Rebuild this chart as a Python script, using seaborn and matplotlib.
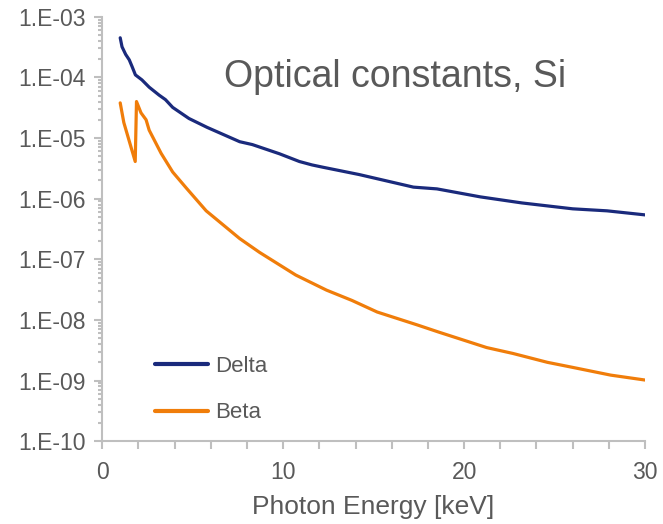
import numpy as np
import pandas as pd
import matplotlib
matplotlib.use("Agg")
import matplotlib.pyplot as plt
from matplotlib.ticker import MultipleLocator, LogLocator, FuncFormatter, NullFormatter
import seaborn as sns

# ---- data ----
delta_energy = [1.0, 1.1, 1.3, 1.5, 1.66, 1.84, 2.2, 2.6, 3.15, 3.5, 3.9, 4.8, 5.8,
                7.6, 8.3, 9.8, 10.9, 11.6, 12.2, 14.2, 17.2, 18.5, 20.9, 23.2, 26.0, 27.9, 30.0]
delta_values = [4.5e-4, 3.2e-4, 2.4e-4, 1.95e-4, 1.5e-4, 1.1e-4, 9.1e-5, 6.9e-5, 5.1e-5,
                4.3e-5, 3.2e-5, 2.1e-5, 1.5e-5, 8.7e-6, 7.8e-6, 5.5e-6, 4.1e-6, 3.6e-6,
                3.3e-6, 2.5e-6, 1.55e-6, 1.45e-6, 1.07e-6, 8.5e-7, 6.8e-7, 6.3e-7, 5.4e-7]

beta_energy = [1.0, 1.2, 1.5, 1.83, 1.90, 2.15, 2.43, 2.6, 3.26, 3.9, 4.65, 5.75, 7.6, 8.7,
               10.7, 12.4, 13.8, 15.2, 17.4, 18.6, 21.25, 22.7, 24.6, 26.0, 28.1, 30.0]
beta_values = [3.8e-5, 1.8e-5, 8.9e-6, 4.1e-6, 4.0e-5, 2.6e-5, 2.0e-5, 1.35e-5, 5.6e-6,
               2.75e-6, 1.5e-6, 6.3e-7, 2.2e-7, 1.3e-7, 5.5e-8, 3.1e-8, 2.1e-8, 1.35e-8,
               8.3e-9, 6.3e-9, 3.5e-9, 2.8e-9, 2.0e-9, 1.65e-9, 1.23e-9, 1.02e-9]

series_names = ["Delta", "Beta"]
series_colors = ["#1A2A7C", "#F07D0A"]
title_text = "Optical constants, Si"
x_label = "Photon Energy [keV]"

df = pd.concat([
    pd.DataFrame({"Energy": delta_energy, "Value": delta_values, "Series": "Delta"}),
    pd.DataFrame({"Energy": beta_energy, "Value": beta_values, "Series": "Beta"}),
], ignore_index=True)

sns.set_style("white")
plt.rcParams["font.family"] = ["Liberation Sans", "DejaVu Sans"]

fig = plt.figure(figsize=(6.63, 5.24), dpi=100)
ax = fig.add_axes([0.154, 0.158, 0.819, 0.810])

sns.lineplot(data=df, x="Energy", y="Value", hue="Series", hue_order=series_names,
             palette=dict(zip(series_names, series_colors)), linewidth=2.3,
             sort=False, estimator=None, ax=ax)

ax.set_yscale("log")
ax.set_xlim(0, 30)
ax.set_ylim(1e-10, 1e-3)

gray = "#BFBFBF"
text_gray = "#595959"
for s in ["top", "right"]:
    ax.spines[s].set_visible(False)
for s in ["left", "bottom"]:
    ax.spines[s].set_color(gray)
    ax.spines[s].set_linewidth(1.5)

ax.xaxis.set_major_locator(MultipleLocator(10))
ax.xaxis.set_minor_locator(MultipleLocator(2))
ax.yaxis.set_major_locator(LogLocator(base=10, numticks=20))
ax.yaxis.set_minor_locator(LogLocator(base=10, subs=np.arange(2, 10), numticks=20))
ax.yaxis.set_minor_formatter(NullFormatter())

def ylab(v, pos):
    e = int(round(np.log10(v)))
    return f"1.E-{-e:02d}" if e < 0 else f"1.E+{e:02d}"
ax.yaxis.set_major_formatter(FuncFormatter(ylab))

ax.tick_params(axis="both", which="both", direction="out", color=gray, width=1.5,
               labelcolor=text_gray, labelsize=16.5)
ax.tick_params(axis="y", which="major", length=6, pad=6)
ax.tick_params(axis="y", which="minor", length=3)
ax.tick_params(axis="x", which="both", length=6, pad=8)
ax.tick_params(left=True, bottom=True, which="both")

ax.set_xlabel(x_label, fontsize=19, color=text_gray, labelpad=8)
ax.set_ylabel("")

ax.text(0.54, 0.858, title_text, transform=ax.transAxes, ha="center", va="center",
        fontsize=27, color=text_gray)

leg = ax.legend(loc="lower left", bbox_to_anchor=(0.06, -0.005), frameon=False,
                fontsize=16, handlelength=2.4, handletextpad=0.3, labelspacing=1.13)
for t in leg.get_texts():
    t.set_color(text_gray)
for h in leg.get_lines():
    h.set_linewidth(3)

fig.savefig("out.png", dpi=100)
